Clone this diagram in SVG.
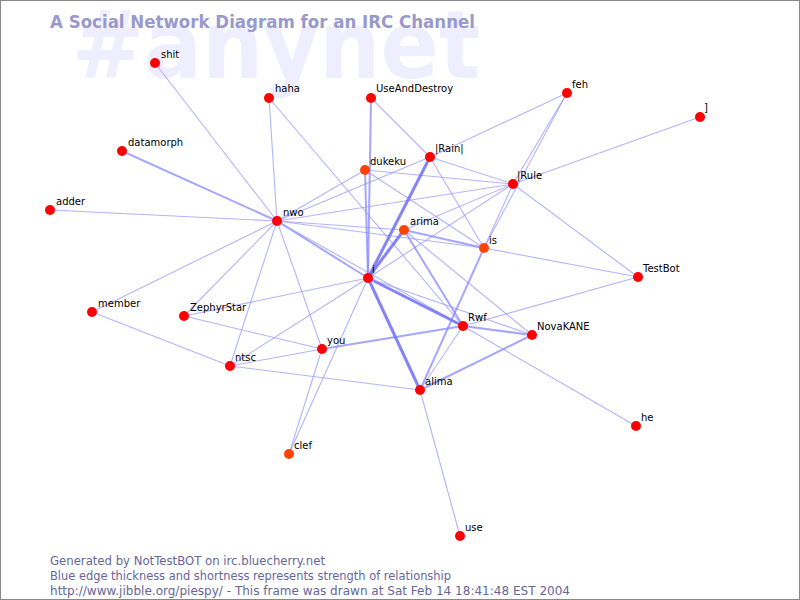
<svg xmlns="http://www.w3.org/2000/svg" width="800" height="600" viewBox="0 0 800 600">
<style>
.bg{fill:#ffffff}
.frame{fill:none;stroke:#888888;stroke-width:1}
.wm{font-family:"DejaVu Sans",sans-serif;font-weight:bold;font-size:95px;fill:#eeeeff}
.title{font-family:"DejaVu Sans",sans-serif;font-weight:bold;font-size:17px;fill:#9999cc}
.foot{font-family:"DejaVu Sans",sans-serif;font-size:11.5px;fill:#666699}
.lbl{font-family:"DejaVu Sans",sans-serif;font-size:10px;fill:#000000}
.e1{stroke:#9999ff;stroke-opacity:0.75;stroke-width:1.1;fill:none}
.e2{stroke:#8888ff;stroke-opacity:0.75;stroke-width:2;fill:none}
.e3{stroke:#6e6ef5;stroke-opacity:0.85;stroke-width:3;fill:none}
.n{fill:#ff0000}
.o{fill:#ff4400}
</style>
<rect class="bg" x="0" y="0" width="800" height="600"/>
<text class="wm" x="72" y="78" textLength="408" lengthAdjust="spacingAndGlyphs">#anynet</text>
<text class="title" x="50" y="28" textLength="425" lengthAdjust="spacingAndGlyphs">A Social Network Diagram for an IRC Channel</text>
<g id="connectors">
<line class="e1" x1="155" y1="63" x2="277" y2="221"/>
<line class="e1" x1="269" y1="98" x2="277" y2="221"/>
<line class="e1" x1="269" y1="98" x2="463" y2="326"/>
<line class="e2" x1="371" y1="98" x2="368" y2="278"/>
<line class="e1" x1="371" y1="98" x2="430" y2="157"/>
<line class="e1" x1="567" y1="93" x2="430" y2="157"/>
<line class="e1" x1="567" y1="93" x2="513" y2="184"/>
<line class="e1" x1="567" y1="93" x2="484" y2="248"/>
<line class="e1" x1="700" y1="117" x2="513" y2="184"/>
<line class="e2" x1="122" y1="151" x2="277" y2="221"/>
<line class="e1" x1="50" y1="210" x2="277" y2="221"/>
<line class="e1" x1="92" y1="312" x2="277" y2="221"/>
<line class="e1" x1="92" y1="312" x2="230" y2="366"/>
<line class="e1" x1="184" y1="316" x2="277" y2="221"/>
<line class="e1" x1="184" y1="316" x2="322" y2="349"/>
<line class="e1" x1="184" y1="316" x2="368" y2="278"/>
<line class="e1" x1="230" y1="366" x2="277" y2="221"/>
<line class="e1" x1="230" y1="366" x2="322" y2="349"/>
<line class="e1" x1="230" y1="366" x2="420" y2="390"/>
<line class="e1" x1="230" y1="366" x2="368" y2="278"/>
<line class="e1" x1="277" y1="221" x2="322" y2="349"/>
<line class="e1" x1="289" y1="454" x2="322" y2="349"/>
<line class="e1" x1="289" y1="454" x2="368" y2="278"/>
<line class="e2" x1="277" y1="221" x2="368" y2="278"/>
<line class="e1" x1="277" y1="221" x2="365" y2="170"/>
<line class="e1" x1="277" y1="221" x2="430" y2="157"/>
<line class="e1" x1="277" y1="221" x2="513" y2="184"/>
<line class="e1" x1="277" y1="221" x2="404" y2="230"/>
<line class="e1" x1="277" y1="221" x2="484" y2="248"/>
<line class="e1" x1="277" y1="221" x2="463" y2="326"/>
<line class="e2" x1="365" y1="170" x2="368" y2="278"/>
<line class="e1" x1="365" y1="170" x2="513" y2="184"/>
<line class="e1" x1="365" y1="170" x2="484" y2="248"/>
<line class="e3" x1="430" y1="157" x2="368" y2="278"/>
<line class="e1" x1="430" y1="157" x2="513" y2="184"/>
<line class="e1" x1="430" y1="157" x2="484" y2="248"/>
<line class="e1" x1="513" y1="184" x2="484" y2="248"/>
<line class="e1" x1="513" y1="184" x2="638" y2="277"/>
<line class="e1" x1="513" y1="184" x2="368" y2="278"/>
<line class="e1" x1="513" y1="184" x2="404" y2="230"/>
<line class="e3" x1="404" y1="230" x2="368" y2="278"/>
<line class="e2" x1="404" y1="230" x2="484" y2="248"/>
<line class="e2" x1="404" y1="230" x2="463" y2="326"/>
<line class="e1" x1="404" y1="230" x2="532" y2="335"/>
<line class="e1" x1="484" y1="248" x2="638" y2="277"/>
<line class="e2" x1="484" y1="248" x2="420" y2="390"/>
<line class="e3" x1="368" y1="278" x2="463" y2="326"/>
<line class="e1" x1="368" y1="278" x2="532" y2="335"/>
<line class="e2" x1="463" y1="326" x2="532" y2="335"/>
<line class="e1" x1="463" y1="326" x2="638" y2="277"/>
<line class="e1" x1="463" y1="326" x2="636" y2="426"/>
<line class="e2" x1="463" y1="326" x2="322" y2="349"/>
<line class="e1" x1="463" y1="326" x2="420" y2="390"/>
<line class="e2" x1="420" y1="390" x2="532" y2="335"/>
<line class="e1" x1="420" y1="390" x2="460" y2="536"/>
<line class="e3" x1="368" y1="278" x2="420" y2="390"/>
</g>
<g id="node-shit"><circle class="n" cx="155" cy="63" r="5"/><text class="lbl" x="161" y="58">shit</text></g>
<g id="node-haha"><circle class="n" cx="269" cy="98" r="5"/><text class="lbl" x="275" y="92">haha</text></g>
<g id="node-UseAndDestroy"><circle class="n" cx="371" cy="98" r="5"/><text class="lbl" x="376" y="92">UseAndDestroy</text></g>
<g id="node-feh"><circle class="n" cx="567" cy="93" r="5"/><text class="lbl" x="572" y="88">feh</text></g>
<g id="node-bracket"><circle class="n" cx="700" cy="117" r="5"/><text class="lbl" x="704" y="111">]</text></g>
<g id="node-datamorph"><circle class="n" cx="122" cy="151" r="5"/><text class="lbl" x="128" y="146">datamorph</text></g>
<g id="node-Rain"><circle class="n" cx="430" cy="157" r="5"/><text class="lbl" x="435" y="152">|Rain|</text></g>
<g id="node-dukeku"><circle class="o" cx="365" cy="170" r="5"/><text class="lbl" x="370" y="165">dukeku</text></g>
<g id="node-Rule"><circle class="n" cx="513" cy="184" r="5"/><text class="lbl" x="517" y="179">|Rule</text></g>
<g id="node-adder"><circle class="n" cx="50" cy="210" r="5"/><text class="lbl" x="56" y="205">adder</text></g>
<g id="node-nwo"><circle class="n" cx="277" cy="221" r="5"/><text class="lbl" x="283" y="216">nwo</text></g>
<g id="node-arima"><circle class="o" cx="404" cy="230" r="5"/><text class="lbl" x="410" y="225">arima</text></g>
<g id="node-is"><circle class="o" cx="484" cy="248" r="5"/><text class="lbl" x="489" y="244">is</text></g>
<g id="node-i"><circle class="n" cx="368" cy="278" r="5"/><text class="lbl" x="372" y="273">i</text></g>
<g id="node-TestBot"><circle class="n" cx="638" cy="277" r="5"/><text class="lbl" x="643" y="272">TestBot</text></g>
<g id="node-member"><circle class="n" cx="92" cy="312" r="5"/><text class="lbl" x="98" y="307">member</text></g>
<g id="node-ZephyrStar"><circle class="n" cx="184" cy="316" r="5"/><text class="lbl" x="190" y="311">ZephyrStar</text></g>
<g id="node-Rwf"><circle class="n" cx="463" cy="326" r="5"/><text class="lbl" x="468" y="321">Rwf</text></g>
<g id="node-NovaKANE"><circle class="n" cx="532" cy="335" r="5"/><text class="lbl" x="537" y="330">NovaKANE</text></g>
<g id="node-you"><circle class="n" cx="322" cy="349" r="5"/><text class="lbl" x="327" y="344">you</text></g>
<g id="node-ntsc"><circle class="n" cx="230" cy="366" r="5"/><text class="lbl" x="235" y="361">ntsc</text></g>
<g id="node-alima"><circle class="n" cx="420" cy="390" r="5"/><text class="lbl" x="425" y="385">alima</text></g>
<g id="node-he"><circle class="n" cx="636" cy="426" r="5"/><text class="lbl" x="641" y="421">he</text></g>
<g id="node-clef"><circle class="o" cx="289" cy="454" r="5"/><text class="lbl" x="294" y="449">clef</text></g>
<g id="node-use"><circle class="n" cx="460" cy="536" r="5"/><text class="lbl" x="465" y="531">use</text></g>
<text class="foot" x="50" y="565" textLength="275" lengthAdjust="spacingAndGlyphs">Generated by NotTestBOT on irc.bluecherry.net</text>
<text class="foot" x="50" y="580" textLength="401" lengthAdjust="spacingAndGlyphs">Blue edge thickness and shortness represents strength of relationship</text>
<text class="foot" x="50" y="595" textLength="520" lengthAdjust="spacingAndGlyphs">http://www.jibble.org/piespy/ - This frame was drawn at Sat Feb 14 18:41:48 EST 2004</text>
<rect class="frame" x="0.5" y="0.5" width="799" height="599"/>
</svg>
